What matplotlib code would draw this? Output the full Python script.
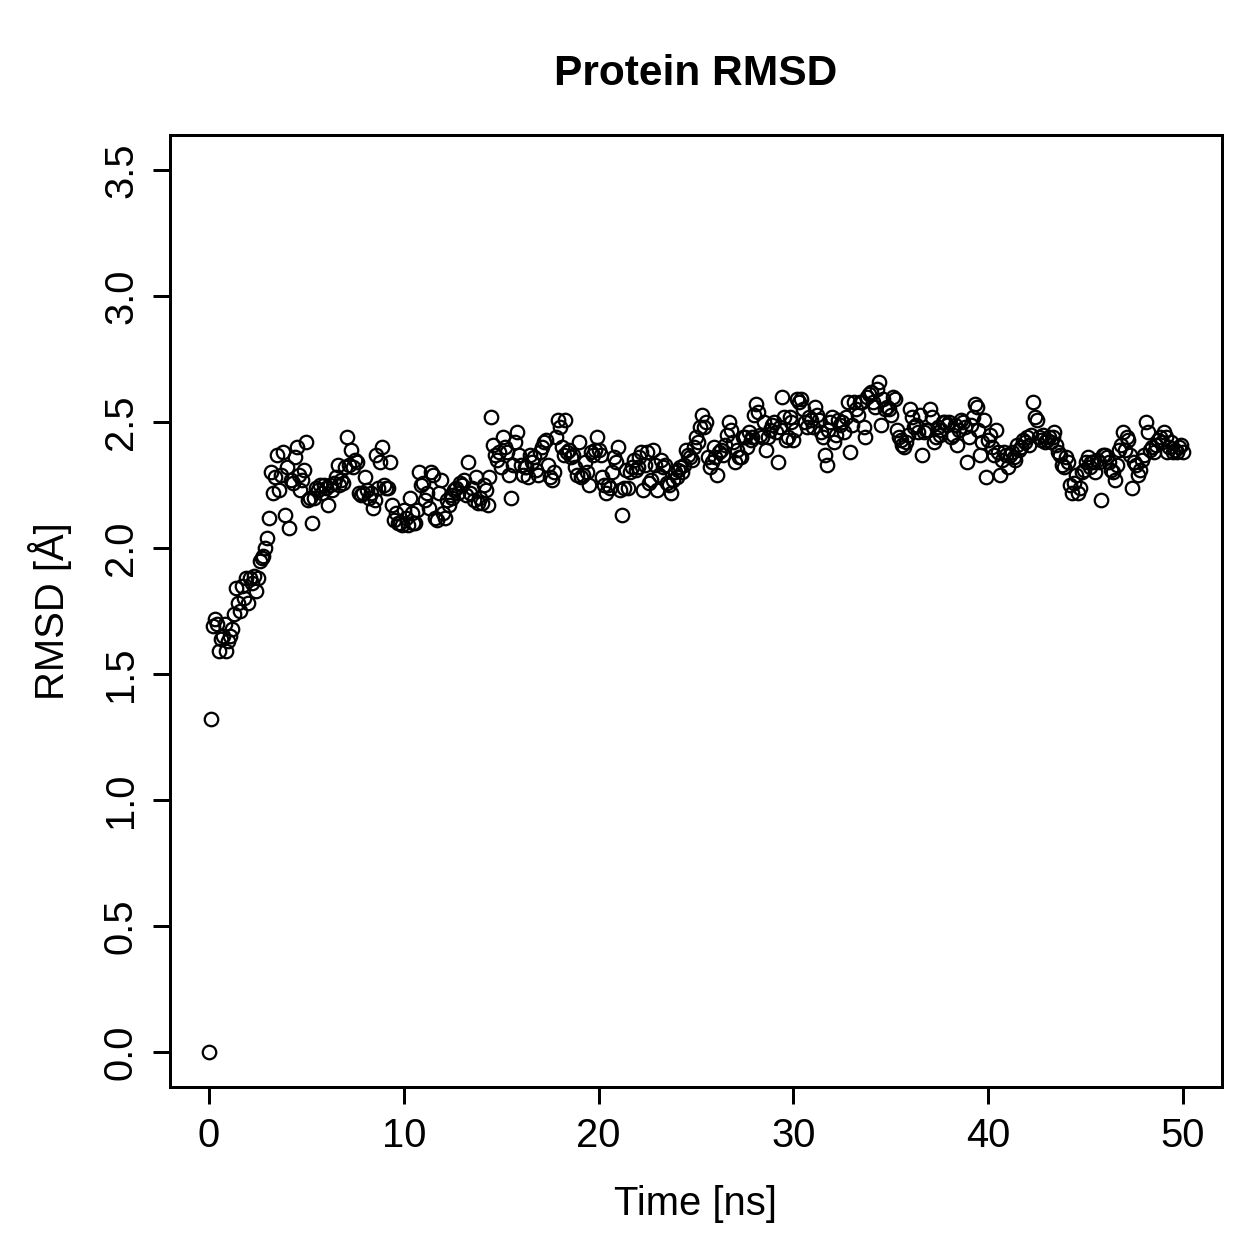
import numpy as np
import matplotlib
matplotlib.use("Agg")
import matplotlib.pyplot as plt

plt.rcParams["font.family"] = ["Liberation Sans", "DejaVu Sans"]

# time in ns, one frame every 0.1 ns
time_ns = np.round(np.arange(0, 501) * 0.1, 1)

rmsd = [
    0.00, 1.32, 1.69, 1.72, 1.70, 1.59, 1.64, 1.65, 1.70, 1.59,
    1.63, 1.65, 1.68, 1.74, 1.84, 1.78, 1.75, 1.85, 1.80, 1.88,
    1.78, 1.88, 1.86, 1.89, 1.83, 1.88, 1.95, 1.96, 1.97, 2.00,
    2.04, 2.12, 2.30, 2.22, 2.28, 2.37, 2.23, 2.29, 2.38, 2.13,
    2.32, 2.08, 2.27, 2.26, 2.36, 2.40, 2.29, 2.23, 2.27, 2.31,
    2.42, 2.19, 2.20, 2.10, 2.20, 2.24, 2.23, 2.25, 2.22, 2.25,
    2.24, 2.17, 2.25, 2.23, 2.26, 2.28, 2.33, 2.25, 2.27, 2.26,
    2.32, 2.44, 2.33, 2.39, 2.32, 2.35, 2.34, 2.22, 2.21, 2.22,
    2.28, 2.23, 2.20, 2.22, 2.16, 2.19, 2.37, 2.24, 2.34, 2.40,
    2.25, 2.24, 2.24, 2.34, 2.17, 2.11, 2.14, 2.10, 2.10, 2.09,
    2.15, 2.12, 2.09, 2.20, 2.14, 2.10, 2.10, 2.15, 2.30, 2.25,
    2.26, 2.19, 2.22, 2.16, 2.30, 2.29, 2.12, 2.11, 2.22, 2.27,
    2.14, 2.12, 2.19, 2.17, 2.21, 2.20, 2.23, 2.24, 2.22, 2.26,
    2.25, 2.27, 2.21, 2.34, 2.22, 2.24, 2.19, 2.28, 2.18, 2.20,
    2.18, 2.25, 2.23, 2.17, 2.28, 2.52, 2.41, 2.37, 2.35, 2.38,
    2.32, 2.44, 2.40, 2.38, 2.29, 2.20, 2.33, 2.42, 2.46, 2.37,
    2.33, 2.29, 2.32, 2.32, 2.28, 2.37, 2.34, 2.36, 2.31, 2.29,
    2.38, 2.40, 2.42, 2.43, 2.33, 2.28, 2.27, 2.30, 2.44, 2.51,
    2.48, 2.40, 2.37, 2.51, 2.38, 2.39, 2.36, 2.37, 2.32, 2.29,
    2.42, 2.28, 2.29, 2.34, 2.30, 2.25, 2.38, 2.37, 2.39, 2.44,
    2.39, 2.37, 2.28, 2.25, 2.22, 2.25, 2.24, 2.30, 2.36, 2.34,
    2.40, 2.23, 2.13, 2.24, 2.31, 2.24, 2.30, 2.32, 2.35, 2.31,
    2.32, 2.36, 2.38, 2.23, 2.33, 2.38, 2.26, 2.27, 2.39, 2.33,
    2.23, 2.29, 2.35, 2.32, 2.33, 2.26, 2.25, 2.22, 2.27, 2.30,
    2.28, 2.31, 2.32, 2.30, 2.33, 2.39, 2.37, 2.36, 2.35, 2.40,
    2.44, 2.42, 2.48, 2.53, 2.48, 2.50, 2.36, 2.32, 2.34, 2.40,
    2.36, 2.29, 2.38, 2.39, 2.37, 2.41, 2.45, 2.50, 2.47, 2.42,
    2.34, 2.39, 2.36, 2.36, 2.44, 2.44, 2.40, 2.46, 2.43, 2.44,
    2.53, 2.57, 2.54, 2.45, 2.44, 2.50, 2.39, 2.44, 2.47, 2.49,
    2.50, 2.46, 2.34, 2.48, 2.60, 2.52, 2.43, 2.44, 2.52, 2.50,
    2.43, 2.47, 2.59, 2.58, 2.59, 2.55, 2.50, 2.48, 2.52, 2.51,
    2.48, 2.56, 2.53, 2.51, 2.46, 2.44, 2.37, 2.33, 2.47, 2.50,
    2.52, 2.42, 2.45, 2.51, 2.49, 2.50, 2.46, 2.52, 2.58, 2.38,
    2.49, 2.58, 2.55, 2.53, 2.58, 2.58, 2.48, 2.44, 2.60, 2.61,
    2.62, 2.58, 2.56, 2.63, 2.66, 2.49, 2.59, 2.55, 2.56, 2.55,
    2.53, 2.60, 2.59, 2.47, 2.44, 2.43, 2.41, 2.40, 2.42, 2.45,
    2.55, 2.52, 2.48, 2.49, 2.46, 2.53, 2.37, 2.46, 2.47, 2.47,
    2.55, 2.52, 2.42, 2.44, 2.48, 2.45, 2.47, 2.50, 2.50, 2.49,
    2.50, 2.44, 2.45, 2.49, 2.41, 2.47, 2.51, 2.50, 2.48, 2.34,
    2.44, 2.49, 2.52, 2.57, 2.56, 2.47, 2.37, 2.42, 2.51, 2.28,
    2.43, 2.45, 2.40, 2.37, 2.47, 2.38, 2.29, 2.35, 2.38, 2.37,
    2.32, 2.37, 2.38, 2.36, 2.35, 2.41, 2.39, 2.40, 2.43, 2.42,
    2.44, 2.41, 2.45, 2.58, 2.52, 2.51, 2.44, 2.43, 2.45, 2.42,
    2.43, 2.44, 2.42, 2.44, 2.46, 2.41, 2.38, 2.37, 2.33, 2.32,
    2.36, 2.34, 2.25, 2.22, 2.26, 2.29, 2.22, 2.24, 2.30, 2.31,
    2.34, 2.36, 2.32, 2.34, 2.34, 2.30, 2.35, 2.34, 2.19, 2.37,
    2.37, 2.36, 2.34, 2.31, 2.30, 2.27, 2.33, 2.39, 2.41, 2.46,
    2.39, 2.44, 2.43, 2.37, 2.24, 2.34, 2.33, 2.29, 2.31, 2.35,
    2.37, 2.50, 2.46, 2.39, 2.40, 2.38, 2.41, 2.43, 2.44, 2.42,
    2.46, 2.44, 2.38, 2.40, 2.42, 2.38, 2.39, 2.38, 2.40, 2.41,
    2.38,
]

x_ticks = [0, 10, 20, 30, 40, 50]
y_ticks = [0.0, 0.5, 1.0, 1.5, 2.0, 2.5, 3.0, 3.5]

fig = plt.figure(figsize=(7, 7), dpi=179.86)
ax = fig.add_axes([0.135, 0.1366, 0.8356, 0.7562])

ax.plot(time_ns, rmsd, linestyle="none", marker="o", ms=5.4,
        mfc="none", mec="black", mew=0.9)

ax.set_xlim(-2, 52)
ax.set_ylim(-0.14, 3.64)
ax.set_xticks(x_ticks)
ax.set_xticklabels([str(t) for t in x_ticks])
ax.set_yticks(y_ticks)
ax.set_yticklabels([f"{t:.1f}" for t in y_ticks], rotation=90, va="center")

ax.tick_params(direction="out", length=7, width=1.2, labelsize=16, pad=5)
for s in ax.spines.values():
    s.set_linewidth(1.2)

ax.set_xlabel("Time [ns]", fontsize=16, labelpad=12)
ax.set_ylabel("RMSD [Å]", fontsize=16, labelpad=12)
ax.set_title("Protein RMSD", fontsize=17, fontweight="bold", pad=20)

fig.savefig("out.png", dpi=179.86)
